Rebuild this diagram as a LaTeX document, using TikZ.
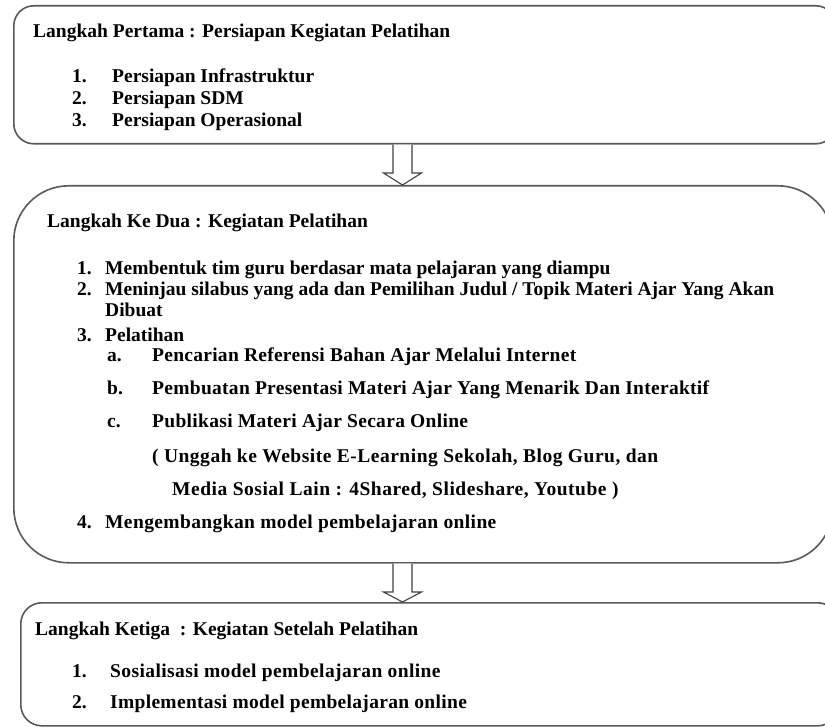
\documentclass[tikz,border=0pt]{standalone}
\usepackage{fontspec}
\setmainfont{Liberation Serif}
\usetikzlibrary{calc}
\begin{document}
\begin{tikzpicture}[x=1pt,y=-1pt,
 box/.style={draw=black!65, line width=1.6pt, anchor=north west, inner sep=0pt},
 txt/.style={anchor=base west, inner sep=0pt, font=\bfseries\fontsize{19.5}{21}\selectfont},
 txtls/.style={anchor=base west, inner sep=0pt, font=\bfseries\fontsize{19.5}{21}\selectfont\addfontfeature{LetterSpace=#1}},
 barrow/.style={draw=black!75, line width=1.1pt, fill=white, line join=miter}]
\useasboundingbox (0,0) rectangle (825,727);
% boxes
\node[box, minimum width=822pt, minimum height=138pt, rounded corners=20pt] (box1) at (13,5) {};
\node[box, minimum width=819pt, minimum height=377pt, rounded corners=55pt] (box2) at (13,185) {};
\node[box, minimum width=818pt, minimum height=123pt, rounded corners=21pt] (box3) at (20,602) {};
% arrows
\coordinate (ax) at (402.5,0);
\draw[barrow] ($(box1.south -| ax)+(-9.5,0)$) -- ($(box2.north -| ax)+(-9.5,-12)$) -- ($(box2.north -| ax)+(-19,-12)$) -- (box2.north -| ax) -- ($(box2.north -| ax)+(19,-12)$) -- ($(box2.north -| ax)+(9.5,-12)$) -- ($(box1.south -| ax)+(9.5,0)$);
\draw[barrow] ($(box2.south -| ax)+(-9.5,0)$) -- ($(box3.north -| ax)+(-9.5,-10)$) -- ($(box3.north -| ax)+(-19,-10)$) -- (box3.north -| ax) -- ($(box3.north -| ax)+(19,-10)$) -- ($(box3.north -| ax)+(9.5,-10)$) -- ($(box2.south -| ax)+(9.5,0)$);
% box 1 text
\node[txt] (t1) at (33,38) {Langkah Pertama : Persiapan Kegiatan Pelatihan};
\node[txt] (n1a) at (72,83) {1.};
\node[txt] (i1a) at (112,83) {Persiapan Infrastruktur};
\node[txt] (n1b) at (72,105) {2.};
\node[txt] (i1b) at (112,105) {Persiapan SDM};
\node[txt] (n1c) at (72,127) {3.};
\node[txt] (i1c) at (112,127) {Persiapan Operasional};
% box 2 text
\node[txt] (t2) at (47,228) {Langkah Ke Dua : Kegiatan Pelatihan};
\node[txt] (n2a) at (77,275) {1.};
\node[txt] (i2a) at (105,275) {Membentuk tim guru berdasar mata pelajaran yang diampu};
\node[txt] (n2b) at (77,296) {2.};
\node[txt] (i2b) at (105,296) {Meninjau silabus yang ada dan Pemilihan Judul / Topik Materi Ajar Yang Akan};
\node[txt] (i2b2) at (105,317) {Dibuat};
\node[txt] (n2c) at (77,342) {3.};
\node[txt] (i2c) at (105,342) {Pelatihan};
\node[txt] (la) at (107,362) {a.};
\node[txtls=1.4] (sa) at (152,362) {Pencarian Referensi Bahan Ajar Melalui Internet};
\node[txt] (lb) at (107,395) {b.};
\node[txtls=1.5] (sb) at (152,395) {Pembuatan Presentasi Materi Ajar Yang Menarik Dan Interaktif};
\node[txt] (lc) at (107,428) {c.};
\node[txtls=1.6] (sc) at (152,428) {Publikasi Materi Ajar Secara Online};
\node[txtls=2.6] (sc2) at (152,462) {( Unggah ke Website E-Learning Sekolah, Blog Guru, dan};
\node[txtls=2.7] (sc3) at (172,495) {Media Sosial Lain : 4Shared, Slideshare, Youtube )};
\node[txt] (n2d) at (77,528) {4.};
\node[txtls=2.0] (i2d) at (105,528) {Mengembangkan model pembelajaran online};
% box 3 text
\node[txt] (t3) at (35,635) {Langkah Ketiga\ \ : Kegiatan Setelah Pelatihan};
\node[txt] (n3a) at (72,677) {1.};
\node[txtls=2.1] (i3a) at (110,677) {Sosialisasi model pembelajaran online};
\node[txt] (n3b) at (72,708) {2.};
\node[txtls=1.6] (i3b) at (110,708) {Implementasi model pembelajaran online};
\end{tikzpicture}
\end{document}
